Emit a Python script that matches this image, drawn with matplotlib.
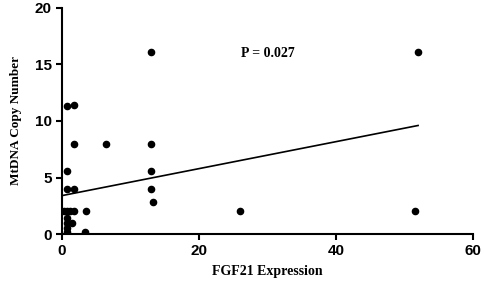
import numpy as np
import matplotlib
matplotlib.use("Agg")
import matplotlib.pyplot as plt

# data
fgf21 = [0.8, 1.8, 1.8, 0.8, 0.8, 1.8, 0.3, 0.8, 1.2, 1.8, 3.5, 0.8, 0.8, 1.5,
         0.8, 0.8, 3.3, 6.5, 13.0, 13.0, 13.0, 13.0, 13.3, 26.0, 52.0, 51.5]
mtdna = [11.3, 11.4, 8.0, 5.6, 4.0, 4.0, 2.0, 2.0, 2.0, 2.0, 2.0, 1.4, 1.0, 1.0,
         0.5, 0.2, 0.2, 8.0, 16.1, 8.0, 5.6, 4.0, 2.8, 2.0, 16.1, 2.0]
fit_x = [0.0, 52.0]
fit_y = [3.4, 9.6]
p_text = "P = 0.027"

fig = plt.figure(figsize=(4.84, 2.81), dpi=100)
ax = fig.add_axes([0.128, 0.167, 0.849, 0.805])

ax.scatter(fgf21, mtdna, s=20, color='black', zorder=3)
ax.plot(fit_x, fit_y, color='black', lw=1.2)

ax.set_xlim(0, 60)
ax.set_ylim(0, 20)
ax.set_xticks([0, 20, 40, 60])
ax.set_yticks([0, 5, 10, 15, 20])
for s in ['top', 'right']:
    ax.spines[s].set_visible(False)
for s in ['left', 'bottom']:
    ax.spines[s].set_linewidth(1.5)
ax.tick_params(width=1.5, length=4, labelsize=11)
for lab in ax.get_xticklabels() + ax.get_yticklabels():
    lab.set_fontfamily('Liberation Sans')
    lab.set_fontweight('bold')

ax.text(30, 16.0, p_text, ha='center', va='center', fontsize=10,
        fontweight='bold', family='Liberation Serif')
ax.set_xlabel("FGF21 Expression", fontsize=10, fontweight='bold',
              family='Liberation Serif')
ax.set_ylabel("MtDNA Copy Number", fontsize=9.5, fontweight='bold',
              family='Liberation Serif')
ax.xaxis.set_label_coords(0.5, -0.135)
ax.yaxis.set_label_coords(-0.098, 0.5)

fig.savefig("out.png", dpi=100)
plt.close()
